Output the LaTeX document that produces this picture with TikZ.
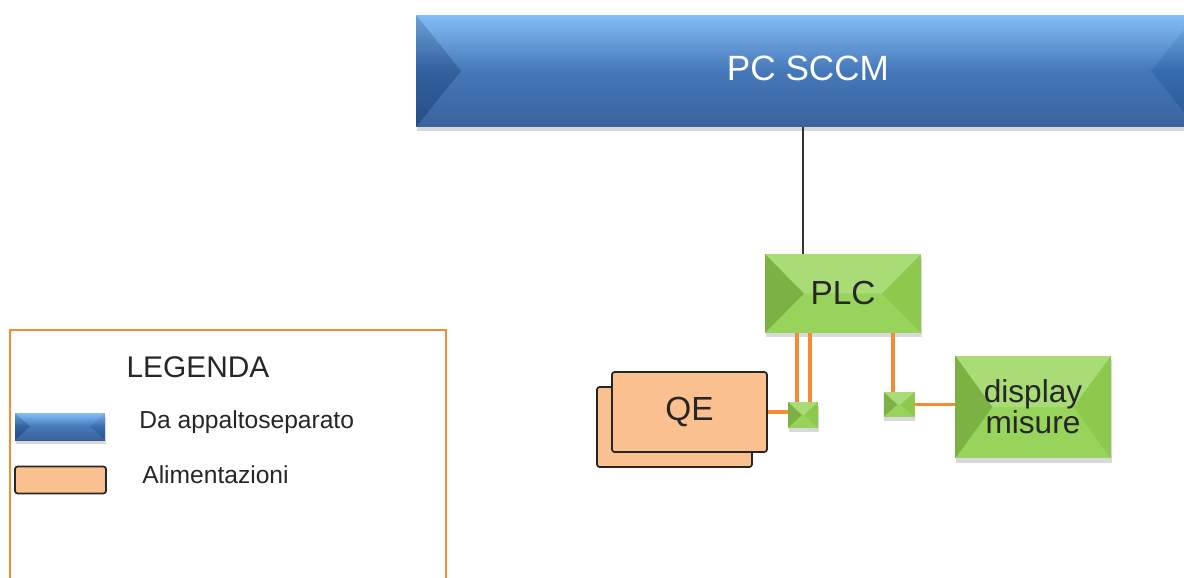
\documentclass[tikz,border=0pt]{standalone}
\usepackage{fontspec}
\setmainfont{Liberation Sans}
\usetikzlibrary{calc,shadows}

\definecolor{sccmblue}{HTML}{3A70B5}
\definecolor{sccmlight}{HTML}{7DBAF6}
\definecolor{sccmdark}{HTML}{2D5A98}
\definecolor{plcgreen}{HTML}{92D251}
\definecolor{qepeach}{HTML}{FAC08F}
\definecolor{feedorange}{HTML}{F68B36}

\tikzset{
  bevel top/.store in=\beveltop, bevel top=0.22,
  bevel side/.store in=\bevelside, bevel side=0.15,
  bevel/.style={path picture={
    \fill[white,opacity=\beveltop] (path picture bounding box.north west) -- (path picture bounding box.north east)
      -- ([xshift=-#1]path picture bounding box.east) -- ([xshift=#1]path picture bounding box.west) -- cycle;
    \fill[white,opacity=0.06] (path picture bounding box.south west) -- (path picture bounding box.south east)
      -- ([xshift=-#1]path picture bounding box.east) -- ([xshift=#1]path picture bounding box.west) -- cycle;
    \fill[black,opacity=\bevelside] (path picture bounding box.north west) -- ([xshift=#1]path picture bounding box.west)
      -- (path picture bounding box.south west) -- cycle;
    \fill[black,opacity=0.04] (path picture bounding box.north east) -- ([xshift=-#1]path picture bounding box.east)
      -- (path picture bounding box.south east) -- cycle;
  }},
  softshadow/.style={drop shadow={opacity=0.3,shadow xshift=0.5pt,shadow yshift=-2.5pt}},
  bluebar/.style={rectangle,inner sep=0pt,top color=sccmlight,bottom color=sccmdark,middle color=sccmblue,bevel top=0.06,bevel side=0.13,softshadow},
  greenbox/.style={rectangle,inner sep=0pt,fill=plcgreen,softshadow,text=black!85},
  qebox/.style={rectangle,inner sep=0pt,fill=qepeach,draw=black!85,line width=1pt,rounded corners=1.5pt},
  feed/.style={feedorange,line width=2pt},
  legtext/.style={inner sep=0pt,font=\fontsize{14}{16}\selectfont,text=black!85}
}

\begin{document}
\begin{tikzpicture}[x=0.02cm,y=-0.02cm]

    \useasboundingbox (0,0) rectangle (1184,578);

    \node[bluebar,bevel=0.9cm,minimum width=15.6cm,minimum height=2.24cm] (pc) at (806,71) {};
    \node[text=white,font=\fontsize{20}{24}\selectfont] at (808,68) {PC SCCM};

    \node[greenbox,bevel=0.78cm,minimum width=3.12cm,minimum height=1.58cm,font=\fontsize{19}{22}\selectfont] (plc) at (843,293.5) {PLC};
    \node[greenbox,bevel=0.75cm,minimum width=3.12cm,minimum height=2.06cm,align=center,font=\fontsize{18}{17.5}\selectfont] (disp) at (1033,407) {display\\misure};
    \node[greenbox,bevel=0.28cm,minimum width=0.6cm,minimum height=0.52cm] (sq1) at (803,415) {};
    \node[greenbox,bevel=0.28cm,minimum width=0.62cm,minimum height=0.5cm] (sq2) at (899,404.5) {};

    \node[qebox,minimum width=3.1cm,minimum height=1.6cm] (qeback) at (674.5,427) {};
    \node[qebox,minimum width=3.1cm,minimum height=1.6cm,font=\fontsize{19}{22}\selectfont,text=black!85] (qe) at (689.5,412) {QE};

    \draw[black!80,line width=0.8pt] (pc.south -| sq1) -- (plc.north -| sq1);
    \draw[feed] ([xshift=-0.12cm]sq1.north) -- ([xshift=-0.12cm]sq1.north |- plc.south);
    \draw[feed] ([xshift=0.14cm]sq1.north) -- ([xshift=0.14cm]sq1.north |- plc.south);
    \draw[feed] ([xshift=-0.12cm]sq2.north) -- ([xshift=-0.12cm]sq2.north |- plc.south);
    \draw[feed] (qe.east) -- (qe.east -| sq1.west);
    \draw[feed] (sq2.east) -- (sq2.east -| disp.west);

    \draw[feedorange,line width=1.6pt] (10,330) rectangle (446,600);
    \node[inner sep=0pt,anchor=base,font=\fontsize{17}{20}\selectfont,text=black!85] (legtitle) at (198,377) {LEGENDA};
    \node[bluebar,bevel=0.3cm,minimum width=1.8cm,minimum height=0.54cm] (legblue) at (60,426.5) {};
    \node[qebox,minimum width=1.82cm,minimum height=0.54cm] (legpeach) at (60.5,480) {};
    \node[legtext,anchor=base west] (legbluetext) at (139,428) {Da appaltoseparato};
    \node[legtext,anchor=base west] (legpeachtext) at (142,483) {Alimentazioni};

\end{tikzpicture}
\end{document}
